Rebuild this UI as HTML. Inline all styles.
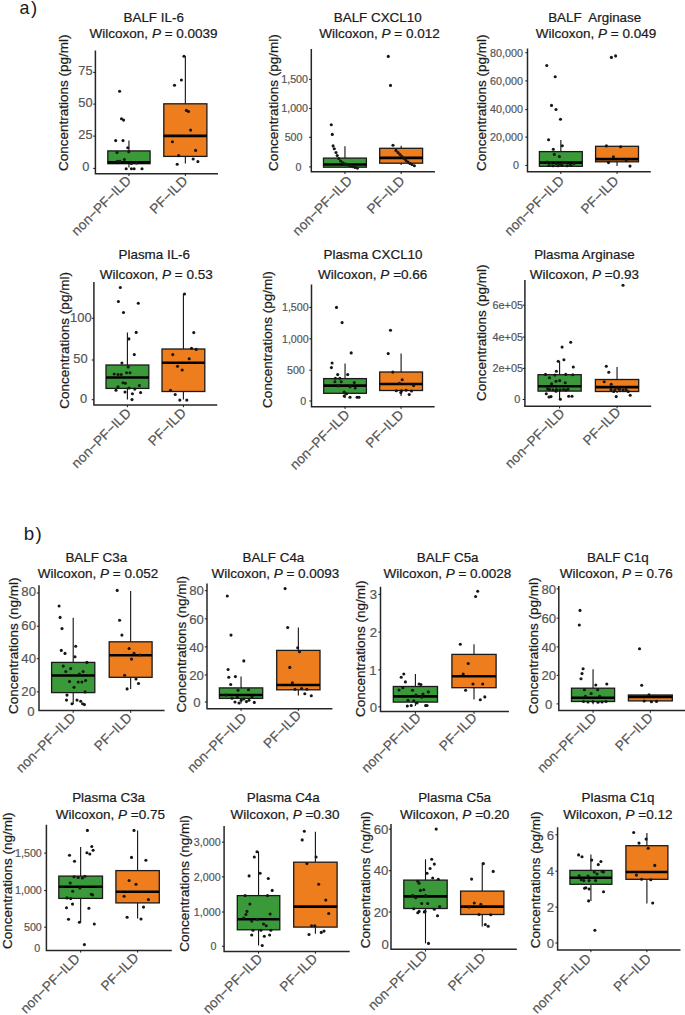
<!DOCTYPE html>
<html><head><meta charset="utf-8"><title>Boxplots</title><style>
html,body{margin:0;padding:0;background:#fff;overflow:hidden;}
svg{display:block;font-family:"Liberation Sans",sans-serif;}
.t1{font-size:13.4px;text-anchor:middle;fill:#1a1a1a;stroke:#1a1a1a;stroke-width:0.22px;}
.t2{font-size:13.5px;text-anchor:middle;fill:#1a1a1a;stroke:#1a1a1a;stroke-width:0.22px;}
.yl{font-size:13.5px;text-anchor:middle;fill:#1a1a1a;stroke:#1a1a1a;stroke-width:0.22px;}
.tl{text-anchor:end;fill:#555555;stroke:#555555;stroke-width:0.2px;}
.xl{font-size:13.7px;text-anchor:end;fill:#555555;stroke:#555555;stroke-width:0.2px;}
.ax{fill:none;stroke:#262626;stroke-width:1.5;}
.tk{stroke:#1a1a1a;stroke-width:1;}
.w{stroke:#111;stroke-width:1.1;}
.bx{stroke:#1a1a1a;stroke-width:1.3;}
.md{stroke:#000;stroke-width:2.6;}
.pt circle{fill:#161616;}
.lab{fill:#1a1a1a;}
</style></head>
<body><svg width="685" height="1015" viewBox="0 0 685 1015">
<text x="19.4" y="14.3" class="lab" font-size="17.8">a<tspan dx="1.8" font-size="18.6">)</tspan></text>
<text x="23.8" y="539.9" class="lab" font-size="18.8">b<tspan dx="1.2" font-size="18.8">)</tspan></text>
<!-- a1 -->
<text x="153.7" y="21.9" class="t1">BALF IL-6</text>
<text x="153.6" y="38.3" class="t2">Wilcoxon, <tspan font-style="italic">P</tspan> = 0.0039</text>
<text transform="translate(68.45,102.7) rotate(-90)" class="yl" font-size="13.5">Concentrations (pg/ml)</text>
<path d="M95.4 50.6V173.8H218" class="ax"/>
<line x1="93.2" y1="72.4" x2="95.4" y2="72.4" class="tk"/>
<text x="92.6" y="74.58" class="tl" font-size="12.8">75</text>
<line x1="93.2" y1="104.1" x2="95.4" y2="104.1" class="tk"/>
<text x="92.6" y="106.58" class="tl" font-size="12.8">50</text>
<line x1="93.2" y1="136.1" x2="95.4" y2="136.1" class="tk"/>
<text x="92.6" y="138.78" class="tl" font-size="12.8">25</text>
<line x1="93.2" y1="168.4" x2="95.4" y2="168.4" class="tk"/>
<text x="89.4" y="170.58" class="tl" font-size="12.8">0</text>
<line x1="128.95" y1="173.8" x2="128.95" y2="176" class="tk"/>
<line x1="185.35" y1="173.8" x2="185.35" y2="176" class="tk"/>
<line x1="128.95" y1="140.6" x2="128.95" y2="150.9" class="w"/>
<line x1="128.95" y1="163.7" x2="128.95" y2="167.4" class="w"/>
<rect x="107.8" y="150.9" width="42.3" height="12.8" fill="#3a9a3a" class="bx"/>
<line x1="107.8" y1="162.4" x2="150.1" y2="162.4" class="md"/>
<line x1="185.35" y1="56.3" x2="185.35" y2="103.8" class="w"/>
<line x1="185.35" y1="156.4" x2="185.35" y2="163.5" class="w"/>
<rect x="163.8" y="103.8" width="43.1" height="52.6" fill="#ee7d1e" class="bx"/>
<line x1="163.8" y1="135.9" x2="206.9" y2="135.9" class="md"/>
<g class="pt"><circle cx="119.6" cy="91.2" r="1.55"/><circle cx="121.5" cy="118.8" r="1.55"/><circle cx="123.6" cy="120.1" r="1.55"/><circle cx="115.7" cy="140.6" r="1.55"/><circle cx="123" cy="140.6" r="1.55"/><circle cx="127.8" cy="147.7" r="1.55"/><circle cx="117" cy="152.5" r="1.55"/><circle cx="128.8" cy="151.7" r="1.55"/><circle cx="124.4" cy="159.5" r="1.55"/><circle cx="117.5" cy="161.4" r="1.55"/><circle cx="120" cy="161.4" r="1.55"/><circle cx="131.4" cy="163.5" r="1.55"/><circle cx="136.5" cy="162.9" r="1.55"/><circle cx="126.2" cy="168.7" r="1.55"/><circle cx="131.4" cy="168.7" r="1.55"/><circle cx="134.1" cy="168.7" r="1.55"/><circle cx="142" cy="168.7" r="1.55"/><circle cx="184" cy="56.3" r="1.55"/><circle cx="181.4" cy="80" r="1.55"/><circle cx="174.5" cy="85.2" r="1.55"/><circle cx="186.4" cy="110.4" r="1.55"/><circle cx="188.5" cy="111.5" r="1.55"/><circle cx="190.6" cy="130.1" r="1.55"/><circle cx="172.4" cy="141.7" r="1.55"/><circle cx="195.6" cy="150.4" r="1.55"/><circle cx="178.7" cy="155.6" r="1.55"/><circle cx="193.2" cy="159" r="1.55"/><circle cx="197.9" cy="161.6" r="1.55"/><circle cx="177.2" cy="164.3" r="1.55"/></g>
<text transform="translate(132,181.5) rotate(-45)" class="xl">non−PF−ILD</text>
<text transform="translate(188.4,181.7) rotate(-45)" class="xl">PF−ILD</text>
<!-- a2 -->
<text x="377.7" y="21.9" class="t1">BALF CXCL10</text>
<text x="379.5" y="38.3" class="t2">Wilcoxon, <tspan font-style="italic">P</tspan> = 0.012</text>
<text transform="translate(277.5,102.6) rotate(-90)" class="yl" font-size="13.5">Concentrations (pg/ml)</text>
<path d="M311.3 49V171.8H434.9" class="ax"/>
<line x1="309.1" y1="79.4" x2="311.3" y2="79.4" class="tk"/>
<text x="308" y="83.23" class="tl" font-size="10.7">1,500</text>
<line x1="309.1" y1="108.5" x2="311.3" y2="108.5" class="tk"/>
<text x="308" y="112.33" class="tl" font-size="10.7">1,000</text>
<line x1="309.1" y1="137.3" x2="311.3" y2="137.3" class="tk"/>
<text x="302.5" y="141.13" class="tl" font-size="10.7">500</text>
<line x1="309.1" y1="166.9" x2="311.3" y2="166.9" class="tk"/>
<text x="301.5" y="170.73" class="tl" font-size="10.7">0</text>
<line x1="344.95" y1="171.8" x2="344.95" y2="174" class="tk"/>
<line x1="401.15" y1="171.8" x2="401.15" y2="174" class="tk"/>
<line x1="344.95" y1="146.3" x2="344.95" y2="158.1" class="w"/>
<line x1="344.95" y1="167.2" x2="344.95" y2="167.4" class="w"/>
<rect x="323.5" y="158.1" width="42.9" height="9.1" fill="#3a9a3a" class="bx"/>
<line x1="323.5" y1="164.5" x2="366.4" y2="164.5" class="md"/>
<line x1="401.15" y1="145.7" x2="401.15" y2="148.3" class="w"/>
<line x1="401.15" y1="163.2" x2="401.15" y2="165" class="w"/>
<rect x="379.7" y="148.3" width="42.9" height="14.9" fill="#ee7d1e" class="bx"/>
<line x1="379.7" y1="157.9" x2="422.6" y2="157.9" class="md"/>
<g class="pt"><circle cx="331.3" cy="124.8" r="1.55"/><circle cx="332.3" cy="134.4" r="1.55"/><circle cx="333.1" cy="145.9" r="1.55"/><circle cx="334.3" cy="148.7" r="1.55"/><circle cx="336" cy="152.5" r="1.55"/><circle cx="337.2" cy="155.5" r="1.55"/><circle cx="338.8" cy="158.5" r="1.55"/><circle cx="340.6" cy="161" r="1.55"/><circle cx="342.7" cy="162.8" r="1.55"/><circle cx="345" cy="163.8" r="1.55"/><circle cx="347.5" cy="164.8" r="1.55"/><circle cx="350" cy="165.8" r="1.55"/><circle cx="352.5" cy="166.6" r="1.55"/><circle cx="355" cy="167.4" r="1.55"/><circle cx="357.5" cy="168.1" r="1.55"/><circle cx="388.3" cy="56.4" r="1.55"/><circle cx="390.5" cy="85.4" r="1.55"/><circle cx="393" cy="145.2" r="1.55"/><circle cx="396" cy="150.4" r="1.55"/><circle cx="398" cy="152.5" r="1.55"/><circle cx="400" cy="154.5" r="1.55"/><circle cx="402" cy="156.5" r="1.55"/><circle cx="404" cy="158.5" r="1.55"/><circle cx="406" cy="160.5" r="1.55"/><circle cx="408" cy="162" r="1.55"/><circle cx="410" cy="163.5" r="1.55"/><circle cx="412" cy="164.5" r="1.55"/><circle cx="414.4" cy="165.7" r="1.55"/></g>
<text transform="translate(353,181.6) rotate(-45)" class="xl">non−PF−ILD</text>
<text transform="translate(405.6,181.7) rotate(-45)" class="xl">PF−ILD</text>
<!-- a3 -->
<text x="594.7" y="21.9" class="t1">BALF  Arginase</text>
<text x="596" y="38.3" class="t2">Wilcoxon, <tspan font-style="italic">P</tspan> = 0.049</text>
<text transform="translate(486.4,102.7) rotate(-90)" class="yl" font-size="13.5">Concentrations (pg/ml)</text>
<path d="M527.5 48.4V171.8H650.8" class="ax"/>
<line x1="525.3" y1="52.7" x2="527.5" y2="52.7" class="tk"/>
<text x="523" y="56.57" class="tl" font-size="10.8">80,000</text>
<line x1="525.3" y1="80.9" x2="527.5" y2="80.9" class="tk"/>
<text x="523" y="84.77" class="tl" font-size="10.8">60,000</text>
<line x1="525.3" y1="109.6" x2="527.5" y2="109.6" class="tk"/>
<text x="523" y="113.47" class="tl" font-size="10.8">40,000</text>
<line x1="525.3" y1="137.1" x2="527.5" y2="137.1" class="tk"/>
<text x="523" y="140.97" class="tl" font-size="10.8">20,000</text>
<line x1="525.3" y1="165.4" x2="527.5" y2="165.4" class="tk"/>
<text x="519.1" y="169.27" class="tl" font-size="10.8">0</text>
<line x1="560.85" y1="171.8" x2="560.85" y2="174" class="tk"/>
<line x1="617.05" y1="171.8" x2="617.05" y2="174" class="tk"/>
<line x1="560.85" y1="140.1" x2="560.85" y2="151.6" class="w"/>
<line x1="560.85" y1="166.3" x2="560.85" y2="166.3" class="w"/>
<rect x="539.4" y="151.6" width="42.9" height="14.7" fill="#3a9a3a" class="bx"/>
<line x1="539.4" y1="162.6" x2="582.3" y2="162.6" class="md"/>
<line x1="617.05" y1="146.3" x2="617.05" y2="146.3" class="w"/>
<line x1="617.05" y1="161.8" x2="617.05" y2="166" class="w"/>
<rect x="595.6" y="146.3" width="42.9" height="15.5" fill="#ee7d1e" class="bx"/>
<line x1="595.6" y1="159.1" x2="638.5" y2="159.1" class="md"/>
<g class="pt"><circle cx="546.8" cy="65.5" r="1.55"/><circle cx="555.2" cy="76.8" r="1.55"/><circle cx="551.5" cy="105.4" r="1.55"/><circle cx="556" cy="109.5" r="1.55"/><circle cx="560.5" cy="119.3" r="1.55"/><circle cx="548.6" cy="139.7" r="1.55"/><circle cx="562.3" cy="145.7" r="1.55"/><circle cx="553.3" cy="149.3" r="1.55"/><circle cx="554.3" cy="154.4" r="1.55"/><circle cx="559.4" cy="156.5" r="1.55"/><circle cx="547" cy="162" r="1.55"/><circle cx="551" cy="163" r="1.55"/><circle cx="556" cy="163.5" r="1.55"/><circle cx="560" cy="164" r="1.55"/><circle cx="563" cy="163" r="1.55"/><circle cx="566" cy="162.5" r="1.55"/><circle cx="570" cy="164" r="1.55"/><circle cx="574" cy="163.5" r="1.55"/><circle cx="549" cy="165.5" r="1.55"/><circle cx="553" cy="165.8" r="1.55"/><circle cx="558" cy="165.8" r="1.55"/><circle cx="562" cy="165.5" r="1.55"/><circle cx="567" cy="165.8" r="1.55"/><circle cx="571" cy="165.5" r="1.55"/><circle cx="611.4" cy="57.4" r="1.55"/><circle cx="615.6" cy="55.9" r="1.55"/><circle cx="606.4" cy="145.9" r="1.55"/><circle cx="620.6" cy="146.7" r="1.55"/><circle cx="613.4" cy="156.9" r="1.55"/><circle cx="608.5" cy="162.6" r="1.55"/><circle cx="626.3" cy="160.6" r="1.55"/><circle cx="630" cy="166.1" r="1.55"/></g>
<text transform="translate(564.9,181.6) rotate(-45)" class="xl">non−PF−ILD</text>
<text transform="translate(619.5,181.7) rotate(-45)" class="xl">PF−ILD</text>
<!-- a4 -->
<text x="154.3" y="258.6" class="t1">Plasma IL-6</text>
<text x="156.3" y="279" class="t2">Wilcoxon, <tspan font-style="italic">P</tspan> = 0.53</text>
<text transform="translate(69.05,340.4) rotate(-90)" class="yl" font-size="13.5">Concentrations (pg/ml)</text>
<path d="M93.9 282.1V405H217.2" class="ax"/>
<line x1="91.7" y1="318.3" x2="93.9" y2="318.3" class="tk"/>
<text x="91.6" y="322.22" class="tl" font-size="12.9">100</text>
<line x1="91.7" y1="360" x2="93.9" y2="360" class="tk"/>
<text x="87.7" y="362.92" class="tl" font-size="12.9">50</text>
<line x1="91.7" y1="399.7" x2="93.9" y2="399.7" class="tk"/>
<text x="87.2" y="402.92" class="tl" font-size="12.9">0</text>
<line x1="127.4" y1="405" x2="127.4" y2="407.2" class="tk"/>
<line x1="183.4" y1="405" x2="183.4" y2="407.2" class="tk"/>
<line x1="127.4" y1="332.6" x2="127.4" y2="365" class="w"/>
<line x1="127.4" y1="388.4" x2="127.4" y2="399.6" class="w"/>
<rect x="106" y="365" width="42.8" height="23.4" fill="#3a9a3a" class="bx"/>
<line x1="106" y1="377.5" x2="148.8" y2="377.5" class="md"/>
<line x1="183.4" y1="294" x2="183.4" y2="349" class="w"/>
<line x1="183.4" y1="391.5" x2="183.4" y2="399.6" class="w"/>
<rect x="162" y="349" width="42.8" height="42.5" fill="#ee7d1e" class="bx"/>
<line x1="162" y1="362.7" x2="204.8" y2="362.7" class="md"/>
<g class="pt"><circle cx="120.3" cy="287.5" r="1.55"/><circle cx="118.4" cy="301.5" r="1.55"/><circle cx="138.3" cy="303.2" r="1.55"/><circle cx="123.5" cy="312.5" r="1.55"/><circle cx="136.2" cy="332.4" r="1.55"/><circle cx="128.9" cy="338.9" r="1.55"/><circle cx="134.3" cy="354.6" r="1.55"/><circle cx="121.9" cy="363" r="1.55"/><circle cx="128.2" cy="367" r="1.55"/><circle cx="114.2" cy="374" r="1.55"/><circle cx="118" cy="374.5" r="1.55"/><circle cx="121.2" cy="374.5" r="1.55"/><circle cx="126.6" cy="372.8" r="1.55"/><circle cx="130" cy="372.8" r="1.55"/><circle cx="123" cy="382.8" r="1.55"/><circle cx="125.4" cy="383.3" r="1.55"/><circle cx="139.4" cy="385.6" r="1.55"/><circle cx="118" cy="386.8" r="1.55"/><circle cx="134.8" cy="389.1" r="1.55"/><circle cx="116" cy="390.3" r="1.55"/><circle cx="125" cy="392" r="1.55"/><circle cx="129" cy="388" r="1.55"/><circle cx="140.6" cy="392.6" r="1.55"/><circle cx="132.4" cy="393.8" r="1.55"/><circle cx="132" cy="399.6" r="1.55"/><circle cx="184.5" cy="294" r="1.55"/><circle cx="193.8" cy="332.6" r="1.55"/><circle cx="191.5" cy="348.3" r="1.55"/><circle cx="196.2" cy="349.4" r="1.55"/><circle cx="172.8" cy="354.6" r="1.55"/><circle cx="189.2" cy="358.8" r="1.55"/><circle cx="177.5" cy="366.2" r="1.55"/><circle cx="182.2" cy="370" r="1.55"/><circle cx="170.5" cy="390.3" r="1.55"/><circle cx="175.2" cy="394.5" r="1.55"/><circle cx="179.8" cy="400.1" r="1.55"/><circle cx="186.8" cy="400.1" r="1.55"/></g>
<text transform="translate(132,414) rotate(-45)" class="xl">non−PF−ILD</text>
<text transform="translate(186.9,413.7) rotate(-45)" class="xl">PF−ILD</text>
<!-- a5 -->
<text x="373" y="258.6" class="t1">Plasma CXCL10</text>
<text x="372.7" y="279" class="t2">Wilcoxon, <tspan font-style="italic">P</tspan> =0.66</text>
<text transform="translate(272.2,339.6) rotate(-90)" class="yl" font-size="13.8">Concentrations (pg/ml)</text>
<path d="M311.5 284.5V406.7H434.6" class="ax"/>
<line x1="309.3" y1="307.4" x2="311.5" y2="307.4" class="tk"/>
<text x="308.7" y="311.23" class="tl" font-size="10.7">1,500</text>
<line x1="309.3" y1="338.9" x2="311.5" y2="338.9" class="tk"/>
<text x="308.7" y="342.73" class="tl" font-size="10.7">1,000</text>
<line x1="309.3" y1="370.2" x2="311.5" y2="370.2" class="tk"/>
<text x="304.8" y="374.03" class="tl" font-size="10.7">500</text>
<line x1="309.3" y1="401" x2="311.5" y2="401" class="tk"/>
<text x="306.3" y="404.83" class="tl" font-size="10.7">0</text>
<line x1="345.05" y1="406.7" x2="345.05" y2="408.9" class="tk"/>
<line x1="401.1" y1="406.7" x2="401.1" y2="408.9" class="tk"/>
<line x1="345.05" y1="363.4" x2="345.05" y2="378.6" class="w"/>
<line x1="345.05" y1="393.3" x2="345.05" y2="398" class="w"/>
<rect x="323.7" y="378.6" width="42.7" height="14.7" fill="#3a9a3a" class="bx"/>
<line x1="323.7" y1="385.6" x2="366.4" y2="385.6" class="md"/>
<line x1="401.1" y1="353.6" x2="401.1" y2="372" class="w"/>
<line x1="401.1" y1="390.5" x2="401.1" y2="396" class="w"/>
<rect x="379.7" y="372" width="42.8" height="18.5" fill="#ee7d1e" class="bx"/>
<line x1="379.7" y1="384" x2="422.5" y2="384" class="md"/>
<g class="pt"><circle cx="336.5" cy="307.4" r="1.55"/><circle cx="342.1" cy="322.6" r="1.55"/><circle cx="351.2" cy="352.9" r="1.55"/><circle cx="332.1" cy="363" r="1.55"/><circle cx="331.4" cy="367.6" r="1.55"/><circle cx="337.7" cy="374.6" r="1.55"/><circle cx="347.7" cy="374.6" r="1.55"/><circle cx="335.4" cy="378.2" r="1.55"/><circle cx="339.8" cy="378.2" r="1.55"/><circle cx="334.9" cy="381.7" r="1.55"/><circle cx="341.2" cy="381.7" r="1.55"/><circle cx="338.4" cy="385.9" r="1.55"/><circle cx="350" cy="386.8" r="1.55"/><circle cx="354.3" cy="382.6" r="1.55"/><circle cx="355.2" cy="388" r="1.55"/><circle cx="344.2" cy="392" r="1.55"/><circle cx="346.6" cy="393.8" r="1.55"/><circle cx="350" cy="397.3" r="1.55"/><circle cx="357.1" cy="397.3" r="1.55"/><circle cx="359" cy="397.3" r="1.55"/><circle cx="344.2" cy="396.1" r="1.55"/><circle cx="390.5" cy="330.3" r="1.55"/><circle cx="388.2" cy="353.6" r="1.55"/><circle cx="392.8" cy="372.1" r="1.55"/><circle cx="402.2" cy="379.8" r="1.55"/><circle cx="399.4" cy="383.3" r="1.55"/><circle cx="396.3" cy="390.8" r="1.55"/><circle cx="401.5" cy="390.8" r="1.55"/><circle cx="406.1" cy="390.3" r="1.55"/><circle cx="411.5" cy="391" r="1.55"/><circle cx="413.6" cy="385.6" r="1.55"/><circle cx="409.2" cy="394.5" r="1.55"/><circle cx="400.8" cy="392.6" r="1.55"/></g>
<text transform="translate(350.4,415.6) rotate(-45)" class="xl">non−PF−ILD</text>
<text transform="translate(404.4,415.7) rotate(-45)" class="xl">PF−ILD</text>
<!-- a6 -->
<text x="584.4" y="258.6" class="t1">Plasma Arginase</text>
<text x="584.4" y="279" class="t2">Wilcoxon, <tspan font-style="italic">P</tspan> =0.93</text>
<text transform="translate(486.3,332.8) rotate(-90)" class="yl" font-size="13.5">Concentrations (pg/ml)</text>
<path d="M524.9 279.9V406.2H651.2" class="ax"/>
<line x1="522.7" y1="305.2" x2="524.9" y2="305.2" class="tk"/>
<text x="523" y="309.1" class="tl" font-size="10.9">6e+05</text>
<line x1="522.7" y1="337.1" x2="524.9" y2="337.1" class="tk"/>
<text x="523" y="341" class="tl" font-size="10.9">4e+05</text>
<line x1="522.7" y1="368.4" x2="524.9" y2="368.4" class="tk"/>
<text x="523" y="372.3" class="tl" font-size="10.9">2e+05</text>
<line x1="522.7" y1="399.5" x2="524.9" y2="399.5" class="tk"/>
<text x="520.4" y="403.4" class="tl" font-size="10.9">0</text>
<line x1="559.6" y1="406.2" x2="559.6" y2="408.4" class="tk"/>
<line x1="617.05" y1="406.2" x2="617.05" y2="408.4" class="tk"/>
<line x1="559.6" y1="360.9" x2="559.6" y2="374.7" class="w"/>
<line x1="559.6" y1="391.1" x2="559.6" y2="399.2" class="w"/>
<rect x="538" y="374.7" width="43.2" height="16.4" fill="#3a9a3a" class="bx"/>
<line x1="538" y1="386.2" x2="581.2" y2="386.2" class="md"/>
<line x1="617.05" y1="367" x2="617.05" y2="379.5" class="w"/>
<line x1="617.05" y1="391.5" x2="617.05" y2="393" class="w"/>
<rect x="595.4" y="379.5" width="43.3" height="12" fill="#ee7d1e" class="bx"/>
<line x1="595.4" y1="387.1" x2="638.7" y2="387.1" class="md"/>
<g class="pt"><circle cx="570.7" cy="342.3" r="1.55"/><circle cx="562.1" cy="347.1" r="1.55"/><circle cx="563.9" cy="359.8" r="1.55"/><circle cx="558.2" cy="361.3" r="1.55"/><circle cx="573.3" cy="367" r="1.55"/><circle cx="556.4" cy="371.2" r="1.55"/><circle cx="545.5" cy="374.4" r="1.55"/><circle cx="554.9" cy="375.1" r="1.55"/><circle cx="565.8" cy="374.4" r="1.55"/><circle cx="572.8" cy="374.7" r="1.55"/><circle cx="549.4" cy="377.7" r="1.55"/><circle cx="556" cy="381.2" r="1.55"/><circle cx="559.7" cy="380.6" r="1.55"/><circle cx="551.6" cy="383.9" r="1.55"/><circle cx="565.2" cy="382.8" r="1.55"/><circle cx="547.7" cy="388.9" r="1.55"/><circle cx="568" cy="389.3" r="1.55"/><circle cx="546.3" cy="393.7" r="1.55"/><circle cx="549" cy="397" r="1.55"/><circle cx="551" cy="396.6" r="1.55"/><circle cx="560.4" cy="399.2" r="1.55"/><circle cx="568.7" cy="396.3" r="1.55"/><circle cx="572" cy="396.3" r="1.55"/><circle cx="549.5" cy="389.4" r="1.55"/><circle cx="553" cy="389.8" r="1.55"/><circle cx="556.5" cy="389.5" r="1.55"/><circle cx="560" cy="389.9" r="1.55"/><circle cx="563.5" cy="389.6" r="1.55"/><circle cx="566" cy="390.1" r="1.55"/><circle cx="556" cy="391.2" r="1.55"/><circle cx="623" cy="285.3" r="1.55"/><circle cx="606.3" cy="366.3" r="1.55"/><circle cx="608.8" cy="372.3" r="1.55"/><circle cx="604.2" cy="381.7" r="1.55"/><circle cx="611.2" cy="384.3" r="1.55"/><circle cx="613.6" cy="391.5" r="1.55"/><circle cx="618.2" cy="388.2" r="1.55"/><circle cx="616.2" cy="396.6" r="1.55"/><circle cx="628.2" cy="391.5" r="1.55"/><circle cx="630.2" cy="395.2" r="1.55"/><circle cx="611" cy="389.6" r="1.55"/><circle cx="615" cy="389.9" r="1.55"/><circle cx="619.5" cy="389.4" r="1.55"/><circle cx="623" cy="390" r="1.55"/><circle cx="626" cy="389.6" r="1.55"/></g>
<text transform="translate(565.5,414.2) rotate(-45)" class="xl">non−PF−ILD</text>
<text transform="translate(621.6,413.1) rotate(-45)" class="xl">PF−ILD</text>
<!-- b1 -->
<text x="96.3" y="561.7" class="t1">BALF C3a</text>
<text x="98" y="578.3" class="t2">Wilcoxon, <tspan font-style="italic">P</tspan> = 0.052</text>
<text transform="translate(18,645.8) rotate(-90)" class="yl" font-size="13.5">Concentrations (ng/ml)</text>
<path d="M39 585.2V710.6H164.6" class="ax"/>
<line x1="36.8" y1="593" x2="39" y2="593" class="tk"/>
<text x="36" y="596.13" class="tl" font-size="13.2">80</text>
<line x1="36.8" y1="626.2" x2="39" y2="626.2" class="tk"/>
<text x="36" y="629.53" class="tl" font-size="13.2">60</text>
<line x1="36.8" y1="658.7" x2="39" y2="658.7" class="tk"/>
<text x="36" y="662.63" class="tl" font-size="13.2">40</text>
<line x1="36.8" y1="691.9" x2="39" y2="691.9" class="tk"/>
<text x="36" y="695.93" class="tl" font-size="13.2">20</text>
<text x="34.5" y="716.43" class="tl" font-size="13.2">0</text>
<line x1="73.2" y1="710.6" x2="73.2" y2="712.8" class="tk"/>
<line x1="130.65" y1="710.6" x2="130.65" y2="712.8" class="tk"/>
<line x1="73.2" y1="617.7" x2="73.2" y2="662.4" class="w"/>
<line x1="73.2" y1="692.6" x2="73.2" y2="704" class="w"/>
<rect x="51.6" y="662.4" width="43.2" height="30.2" fill="#3a9a3a" class="bx"/>
<line x1="51.6" y1="675.5" x2="94.8" y2="675.5" class="md"/>
<line x1="130.65" y1="590.9" x2="130.65" y2="641.8" class="w"/>
<line x1="130.65" y1="677.3" x2="130.65" y2="688.9" class="w"/>
<rect x="109.2" y="641.8" width="42.9" height="35.5" fill="#ee7d1e" class="bx"/>
<line x1="109.2" y1="655.2" x2="152.1" y2="655.2" class="md"/>
<g class="pt"><circle cx="59.1" cy="606" r="1.55"/><circle cx="60.1" cy="617.4" r="1.55"/><circle cx="62" cy="628.6" r="1.55"/><circle cx="61.3" cy="650.4" r="1.55"/><circle cx="65" cy="653.4" r="1.55"/><circle cx="75.7" cy="646.2" r="1.55"/><circle cx="75" cy="656.7" r="1.55"/><circle cx="86.9" cy="662.4" r="1.55"/><circle cx="63.3" cy="666.1" r="1.55"/><circle cx="70.7" cy="668.6" r="1.55"/><circle cx="65.8" cy="671.5" r="1.55"/><circle cx="83.1" cy="671.5" r="1.55"/><circle cx="79.4" cy="674" r="1.55"/><circle cx="69.5" cy="681.5" r="1.55"/><circle cx="78.2" cy="682" r="1.55"/><circle cx="81.9" cy="682" r="1.55"/><circle cx="85.6" cy="680.5" r="1.55"/><circle cx="74" cy="687.2" r="1.55"/><circle cx="85.1" cy="691.9" r="1.55"/><circle cx="67" cy="695.1" r="1.55"/><circle cx="66.5" cy="700.1" r="1.55"/><circle cx="72" cy="703.8" r="1.55"/><circle cx="77" cy="700.1" r="1.55"/><circle cx="80.7" cy="701.3" r="1.55"/><circle cx="82.6" cy="703.8" r="1.55"/><circle cx="84.4" cy="704.6" r="1.55"/><circle cx="117.2" cy="590.4" r="1.55"/><circle cx="119.6" cy="620.2" r="1.55"/><circle cx="121.9" cy="635.1" r="1.55"/><circle cx="129.1" cy="648.5" r="1.55"/><circle cx="134" cy="653.4" r="1.55"/><circle cx="131.5" cy="659.1" r="1.55"/><circle cx="140.2" cy="655" r="1.55"/><circle cx="124.6" cy="675.3" r="1.55"/><circle cx="136" cy="679" r="1.55"/><circle cx="138.5" cy="683.5" r="1.55"/><circle cx="127.1" cy="688.9" r="1.55"/></g>
<text transform="translate(76.4,718.6) rotate(-45)" class="xl">non−PF−ILD</text>
<text transform="translate(132.8,718.6) rotate(-45)" class="xl">PF−ILD</text>
<!-- b2 -->
<text x="273.4" y="561.5" class="t1">BALF C4a</text>
<text x="275.4" y="578.1" class="t2">Wilcoxon, <tspan font-style="italic">P</tspan> = 0.0093</text>
<text transform="translate(185.8,644.3) rotate(-90)" class="yl" font-size="13.5">Concentrations (ng/ml)</text>
<path d="M207 583.4V708.7H332.4" class="ax"/>
<line x1="204.8" y1="590.7" x2="207" y2="590.7" class="tk"/>
<text x="203.9" y="595.43" class="tl" font-size="13.2">80</text>
<line x1="204.8" y1="618.8" x2="207" y2="618.8" class="tk"/>
<text x="203.9" y="623.53" class="tl" font-size="13.2">60</text>
<line x1="204.8" y1="646.9" x2="207" y2="646.9" class="tk"/>
<text x="203.9" y="651.63" class="tl" font-size="13.2">40</text>
<line x1="204.8" y1="675" x2="207" y2="675" class="tk"/>
<text x="203.9" y="679.73" class="tl" font-size="13.2">20</text>
<line x1="204.8" y1="702" x2="207" y2="702" class="tk"/>
<text x="200.5" y="706.73" class="tl" font-size="13.2">0</text>
<line x1="241.05" y1="708.7" x2="241.05" y2="710.9" class="tk"/>
<line x1="298.35" y1="708.7" x2="298.35" y2="710.9" class="tk"/>
<line x1="241.05" y1="676.6" x2="241.05" y2="687.9" class="w"/>
<line x1="241.05" y1="698.4" x2="241.05" y2="703.4" class="w"/>
<rect x="219.4" y="687.9" width="43.3" height="10.5" fill="#3a9a3a" class="bx"/>
<line x1="219.4" y1="695" x2="262.7" y2="695" class="md"/>
<line x1="298.35" y1="627.5" x2="298.35" y2="650.4" class="w"/>
<line x1="298.35" y1="689.8" x2="298.35" y2="695.5" class="w"/>
<rect x="276.7" y="650.4" width="43.3" height="39.4" fill="#ee7d1e" class="bx"/>
<line x1="276.7" y1="685" x2="320" y2="685" class="md"/>
<g class="pt"><circle cx="227.3" cy="596" r="1.55"/><circle cx="231" cy="635.1" r="1.55"/><circle cx="243.8" cy="660.9" r="1.55"/><circle cx="228.1" cy="669.5" r="1.55"/><circle cx="228.8" cy="677.2" r="1.55"/><circle cx="235.4" cy="676.6" r="1.55"/><circle cx="230.7" cy="684.5" r="1.55"/><circle cx="238" cy="690.3" r="1.55"/><circle cx="248.5" cy="689.8" r="1.55"/><circle cx="232" cy="698.2" r="1.55"/><circle cx="237.3" cy="697.1" r="1.55"/><circle cx="243.8" cy="699" r="1.55"/><circle cx="249" cy="700.3" r="1.55"/><circle cx="254.3" cy="702.4" r="1.55"/><circle cx="241.2" cy="700.3" r="1.55"/><circle cx="246.4" cy="701.6" r="1.55"/><circle cx="226" cy="695" r="1.55"/><circle cx="252" cy="697" r="1.55"/><circle cx="239" cy="703" r="1.55"/><circle cx="235" cy="702" r="1.55"/><circle cx="285.1" cy="588.6" r="1.55"/><circle cx="287.7" cy="627.5" r="1.55"/><circle cx="297.7" cy="647.7" r="1.55"/><circle cx="299.5" cy="651.7" r="1.55"/><circle cx="289.8" cy="667.4" r="1.55"/><circle cx="292.4" cy="682.7" r="1.55"/><circle cx="295" cy="689.2" r="1.55"/><circle cx="301.6" cy="688.5" r="1.55"/><circle cx="306.9" cy="689.2" r="1.55"/><circle cx="304.8" cy="693.7" r="1.55"/><circle cx="311.3" cy="695.8" r="1.55"/></g>
<text transform="translate(247.6,718.6) rotate(-45)" class="xl">non−PF−ILD</text>
<text transform="translate(302.1,716.1) rotate(-45)" class="xl">PF−ILD</text>
<!-- b3 -->
<text x="447.7" y="561.5" class="t1">BALF C5a</text>
<text x="447.4" y="578.1" class="t2">Wilcoxon, <tspan font-style="italic">P</tspan> = 0.0028</text>
<text transform="translate(365.25,648.8) rotate(-90)" class="yl" font-size="13.5">Concentrations (ng/ml)</text>
<path d="M380.5 586.8V711.6H508.9" class="ax"/>
<line x1="378.3" y1="594.4" x2="380.5" y2="594.4" class="tk"/>
<text x="377" y="599.13" class="tl" font-size="13.2">3</text>
<line x1="378.3" y1="632.1" x2="380.5" y2="632.1" class="tk"/>
<text x="377" y="636.83" class="tl" font-size="13.2">2</text>
<line x1="378.3" y1="669.9" x2="380.5" y2="669.9" class="tk"/>
<text x="376.7" y="674.63" class="tl" font-size="13.2">1</text>
<line x1="378.3" y1="706.8" x2="380.5" y2="706.8" class="tk"/>
<text x="377" y="711.53" class="tl" font-size="13.2">0</text>
<line x1="415.4" y1="711.6" x2="415.4" y2="713.8" class="tk"/>
<line x1="474" y1="711.6" x2="474" y2="713.8" class="tk"/>
<line x1="415.4" y1="674" x2="415.4" y2="686.5" class="w"/>
<line x1="415.4" y1="702.1" x2="415.4" y2="706" class="w"/>
<rect x="393.3" y="686.5" width="44.2" height="15.6" fill="#3a9a3a" class="bx"/>
<line x1="393.3" y1="696.4" x2="437.5" y2="696.4" class="md"/>
<line x1="474" y1="644.3" x2="474" y2="654.4" class="w"/>
<line x1="474" y1="687.7" x2="474" y2="699.5" class="w"/>
<rect x="451.9" y="654.4" width="44.2" height="33.3" fill="#ee7d1e" class="bx"/>
<line x1="451.9" y1="676.3" x2="496.1" y2="676.3" class="md"/>
<g class="pt"><circle cx="401.2" cy="677.2" r="1.55"/><circle cx="403.8" cy="674" r="1.55"/><circle cx="405.4" cy="681.9" r="1.55"/><circle cx="402.8" cy="687.7" r="1.55"/><circle cx="412.5" cy="690.3" r="1.55"/><circle cx="419.1" cy="684" r="1.55"/><circle cx="420.9" cy="684.5" r="1.55"/><circle cx="428.3" cy="691.9" r="1.55"/><circle cx="408" cy="700.3" r="1.55"/><circle cx="413.8" cy="700.8" r="1.55"/><circle cx="421.7" cy="697.1" r="1.55"/><circle cx="425.6" cy="705.5" r="1.55"/><circle cx="427" cy="705.5" r="1.55"/><circle cx="407.3" cy="706" r="1.55"/><circle cx="411.2" cy="705.5" r="1.55"/><circle cx="417" cy="703" r="1.55"/><circle cx="399" cy="690" r="1.55"/><circle cx="423" cy="694" r="1.55"/><circle cx="416" cy="695" r="1.55"/><circle cx="477.7" cy="591.2" r="1.55"/><circle cx="475.6" cy="596.5" r="1.55"/><circle cx="460.3" cy="644.3" r="1.55"/><circle cx="468.2" cy="663.5" r="1.55"/><circle cx="463.2" cy="674" r="1.55"/><circle cx="473" cy="684" r="1.55"/><circle cx="482.7" cy="684" r="1.55"/><circle cx="465.6" cy="690.3" r="1.55"/><circle cx="480.3" cy="699.7" r="1.55"/><circle cx="484.8" cy="696.9" r="1.55"/></g>
<text transform="translate(421.8,718.6) rotate(-45)" class="xl">non−PF−ILD</text>
<text transform="translate(477.8,718.6) rotate(-45)" class="xl">PF−ILD</text>
<!-- b4 -->
<text x="617.8" y="561.5" class="t1">BALF C1q</text>
<text x="616.2" y="578.1" class="t2">Wilcoxon, <tspan font-style="italic">P</tspan> = 0.76</text>
<text transform="translate(537.75,645.8) rotate(-90)" class="yl" font-size="13.5">Concentrations (pg/ml)</text>
<path d="M558.8 586V710.6H685" class="ax"/>
<line x1="556.6" y1="588.9" x2="558.8" y2="588.9" class="tk"/>
<text x="556.2" y="593.63" class="tl" font-size="13.2">80</text>
<line x1="556.6" y1="618.1" x2="558.8" y2="618.1" class="tk"/>
<text x="556.2" y="622.83" class="tl" font-size="13.2">60</text>
<line x1="556.6" y1="646.9" x2="558.8" y2="646.9" class="tk"/>
<text x="556.2" y="651.63" class="tl" font-size="13.2">40</text>
<line x1="556.6" y1="675.3" x2="558.8" y2="675.3" class="tk"/>
<text x="556.2" y="680.03" class="tl" font-size="13.2">20</text>
<line x1="556.6" y1="703.9" x2="558.8" y2="703.9" class="tk"/>
<text x="552.4" y="708.63" class="tl" font-size="13.2">0</text>
<line x1="593.05" y1="710.6" x2="593.05" y2="712.8" class="tk"/>
<line x1="650.35" y1="710.6" x2="650.35" y2="712.8" class="tk"/>
<line x1="593.05" y1="669.2" x2="593.05" y2="688.2" class="w"/>
<line x1="593.05" y1="701.5" x2="593.05" y2="704.2" class="w"/>
<rect x="571.5" y="688.2" width="43.1" height="13.3" fill="#3a9a3a" class="bx"/>
<line x1="571.5" y1="697.8" x2="614.6" y2="697.8" class="md"/>
<line x1="650.35" y1="695" x2="650.35" y2="695" class="w"/>
<line x1="650.35" y1="700.9" x2="650.35" y2="701.5" class="w"/>
<rect x="628.4" y="695" width="43.9" height="5.9" fill="#ee7d1e" class="bx"/>
<line x1="628.4" y1="696.9" x2="672.3" y2="696.9" class="md"/>
<g class="pt"><circle cx="580" cy="610.4" r="1.55"/><circle cx="579.3" cy="625" r="1.55"/><circle cx="583.1" cy="668.8" r="1.55"/><circle cx="582" cy="673.6" r="1.55"/><circle cx="581" cy="678.7" r="1.55"/><circle cx="595.8" cy="685" r="1.55"/><circle cx="606.8" cy="684" r="1.55"/><circle cx="584.4" cy="689.7" r="1.55"/><circle cx="597.7" cy="689.7" r="1.55"/><circle cx="591.1" cy="693.5" r="1.55"/><circle cx="585.4" cy="696.2" r="1.55"/><circle cx="599.6" cy="696.2" r="1.55"/><circle cx="583.5" cy="701.5" r="1.55"/><circle cx="588" cy="702" r="1.55"/><circle cx="593" cy="701.5" r="1.55"/><circle cx="598" cy="702.3" r="1.55"/><circle cx="602" cy="702" r="1.55"/><circle cx="606" cy="701.5" r="1.55"/><circle cx="639.5" cy="648.7" r="1.55"/><circle cx="641.7" cy="685.3" r="1.55"/><circle cx="649" cy="694.8" r="1.55"/><circle cx="644.2" cy="701" r="1.55"/><circle cx="651.4" cy="701.8" r="1.55"/><circle cx="656.5" cy="701.4" r="1.55"/></g>
<text transform="translate(597.6,718.6) rotate(-45)" class="xl">non−PF−ILD</text>
<text transform="translate(653.8,718.6) rotate(-45)" class="xl">PF−ILD</text>
<!-- b5 -->
<text x="108.6" y="802.3" class="t1">Plasma C3a</text>
<text x="110.4" y="818.5" class="t2">Wilcoxon, <tspan font-style="italic">P</tspan> =0.75</text>
<text transform="translate(11.95,880.7) rotate(-90)" class="yl" font-size="13.6">Concentrations (ng/ml)</text>
<path d="M46.4 824.7V950.4H171.8" class="ax"/>
<line x1="44.2" y1="853.1" x2="46.4" y2="853.1" class="tk"/>
<text x="41.8" y="856.93" class="tl" font-size="10.7">1,500</text>
<line x1="44.2" y1="890.6" x2="46.4" y2="890.6" class="tk"/>
<text x="41.8" y="894.43" class="tl" font-size="10.7">1,000</text>
<line x1="44.2" y1="927.2" x2="46.4" y2="927.2" class="tk"/>
<text x="41.8" y="931.03" class="tl" font-size="10.7">500</text>
<text x="40.2" y="952.43" class="tl" font-size="10.7">0</text>
<line x1="80.65" y1="950.4" x2="80.65" y2="952.6" class="tk"/>
<line x1="137.6" y1="950.4" x2="137.6" y2="952.6" class="tk"/>
<line x1="80.65" y1="847" x2="80.65" y2="876.1" class="w"/>
<line x1="80.65" y1="898.4" x2="80.65" y2="922.7" class="w"/>
<rect x="58.8" y="876.1" width="43.7" height="22.3" fill="#3a9a3a" class="bx"/>
<line x1="58.8" y1="886.7" x2="102.5" y2="886.7" class="md"/>
<line x1="137.6" y1="830.4" x2="137.6" y2="870.6" class="w"/>
<line x1="137.6" y1="902.9" x2="137.6" y2="918.5" class="w"/>
<rect x="115.9" y="870.6" width="43.4" height="32.3" fill="#ee7d1e" class="bx"/>
<line x1="115.9" y1="891.7" x2="159.3" y2="891.7" class="md"/>
<g class="pt"><circle cx="87.4" cy="830.4" r="1.55"/><circle cx="91.8" cy="846.5" r="1.55"/><circle cx="93.1" cy="850.2" r="1.55"/><circle cx="86.9" cy="852.7" r="1.55"/><circle cx="89.8" cy="854" r="1.55"/><circle cx="69.5" cy="855.2" r="1.55"/><circle cx="74.5" cy="861.2" r="1.55"/><circle cx="74" cy="876.8" r="1.55"/><circle cx="78.2" cy="877.5" r="1.55"/><circle cx="82.4" cy="878" r="1.55"/><circle cx="84.9" cy="876.3" r="1.55"/><circle cx="70.2" cy="883" r="1.55"/><circle cx="79.9" cy="888" r="1.55"/><circle cx="91.3" cy="894.2" r="1.55"/><circle cx="92.6" cy="894.9" r="1.55"/><circle cx="72.7" cy="891.2" r="1.55"/><circle cx="67" cy="897.9" r="1.55"/><circle cx="70.7" cy="898.6" r="1.55"/><circle cx="72.5" cy="904.1" r="1.55"/><circle cx="66.5" cy="907.8" r="1.55"/><circle cx="88.9" cy="908.3" r="1.55"/><circle cx="68.5" cy="919.2" r="1.55"/><circle cx="79.4" cy="922.2" r="1.55"/><circle cx="94.3" cy="924" r="1.55"/><circle cx="84.4" cy="944.6" r="1.55"/><circle cx="134" cy="830.4" r="1.55"/><circle cx="131.5" cy="857.4" r="1.55"/><circle cx="145.9" cy="860.2" r="1.55"/><circle cx="129.1" cy="880.5" r="1.55"/><circle cx="136" cy="884.2" r="1.55"/><circle cx="124.1" cy="896.2" r="1.55"/><circle cx="148.4" cy="899.6" r="1.55"/><circle cx="143.5" cy="907.1" r="1.55"/><circle cx="127.1" cy="917.3" r="1.55"/><circle cx="141" cy="919" r="1.55"/></g>
<text transform="translate(80.8,959.4) rotate(-45)" class="xl">non−PF−ILD</text>
<text transform="translate(139.6,958.6) rotate(-45)" class="xl">PF−ILD</text>
<!-- b6 -->
<text x="283.3" y="802.3" class="t1">Plasma C4a</text>
<text x="285" y="818.5" class="t2">Wilcoxon, <tspan font-style="italic">P</tspan> =0.30</text>
<text transform="translate(189.4,883.5) rotate(-90)" class="yl" font-size="13.7">Concentrations (ng/ml)</text>
<path d="M224.1 826V951.4H349.7" class="ax"/>
<line x1="221.9" y1="842.1" x2="224.1" y2="842.1" class="tk"/>
<text x="220.6" y="845.93" class="tl" font-size="10.7">3,000</text>
<line x1="221.9" y1="876.8" x2="224.1" y2="876.8" class="tk"/>
<text x="220.6" y="880.63" class="tl" font-size="10.7">2,000</text>
<line x1="221.9" y1="912" x2="224.1" y2="912" class="tk"/>
<text x="220.6" y="915.83" class="tl" font-size="10.7">1,000</text>
<line x1="221.9" y1="946.3" x2="224.1" y2="946.3" class="tk"/>
<text x="216.5" y="950.13" class="tl" font-size="10.7">0</text>
<line x1="258.55" y1="951.4" x2="258.55" y2="953.6" class="tk"/>
<line x1="315.4" y1="951.4" x2="315.4" y2="953.6" class="tk"/>
<line x1="258.55" y1="851.5" x2="258.55" y2="895.6" class="w"/>
<line x1="258.55" y1="929.8" x2="258.55" y2="945.5" class="w"/>
<rect x="237.3" y="895.6" width="42.5" height="34.2" fill="#3a9a3a" class="bx"/>
<line x1="237.3" y1="919.3" x2="279.8" y2="919.3" class="md"/>
<line x1="315.4" y1="831.8" x2="315.4" y2="862.2" class="w"/>
<line x1="315.4" y1="927.1" x2="315.4" y2="933.7" class="w"/>
<rect x="293.7" y="862.2" width="43.4" height="64.9" fill="#ee7d1e" class="bx"/>
<line x1="293.7" y1="906.6" x2="337.1" y2="906.6" class="md"/>
<g class="pt"><circle cx="257" cy="851.7" r="1.55"/><circle cx="254.3" cy="857" r="1.55"/><circle cx="249.1" cy="875.9" r="1.55"/><circle cx="260.1" cy="873.3" r="1.55"/><circle cx="268.3" cy="878.5" r="1.55"/><circle cx="272.2" cy="890.4" r="1.55"/><circle cx="245.1" cy="895.6" r="1.55"/><circle cx="267.5" cy="895.6" r="1.55"/><circle cx="249.9" cy="904" r="1.55"/><circle cx="247" cy="911.4" r="1.55"/><circle cx="245.9" cy="914.5" r="1.55"/><circle cx="270.1" cy="914" r="1.55"/><circle cx="243.8" cy="918" r="1.55"/><circle cx="251.7" cy="921.1" r="1.55"/><circle cx="257.5" cy="919.3" r="1.55"/><circle cx="263.5" cy="924" r="1.55"/><circle cx="266.2" cy="925.8" r="1.55"/><circle cx="253" cy="930.3" r="1.55"/><circle cx="260.9" cy="930.3" r="1.55"/><circle cx="270.9" cy="930.3" r="1.55"/><circle cx="251.7" cy="935" r="1.55"/><circle cx="264.3" cy="936.3" r="1.55"/><circle cx="269.6" cy="935" r="1.55"/><circle cx="262.2" cy="945.5" r="1.55"/><circle cx="304.3" cy="831.2" r="1.55"/><circle cx="302.2" cy="839.9" r="1.55"/><circle cx="316.1" cy="857" r="1.55"/><circle cx="306.9" cy="863.6" r="1.55"/><circle cx="318.7" cy="884.3" r="1.55"/><circle cx="325.8" cy="900.1" r="1.55"/><circle cx="328.7" cy="913.5" r="1.55"/><circle cx="311.6" cy="925.8" r="1.55"/><circle cx="314.8" cy="925.8" r="1.55"/><circle cx="309" cy="934.5" r="1.55"/><circle cx="321.3" cy="932.4" r="1.55"/><circle cx="324" cy="931.1" r="1.55"/></g>
<text transform="translate(263.3,959.4) rotate(-45)" class="xl">non−PF−ILD</text>
<text transform="translate(318.3,959.4) rotate(-45)" class="xl">PF−ILD</text>
<!-- b7 -->
<text x="454.6" y="802.3" class="t1">Plasma C5a</text>
<text x="454.7" y="818.5" class="t2">Wilcoxon, <tspan font-style="italic">P</tspan> =0.20</text>
<text transform="translate(370.35,879.9) rotate(-90)" class="yl" font-size="13.5">Concentrations (ng/ml)</text>
<path d="M391 824.1V949.3H516.8" class="ax"/>
<line x1="388.8" y1="829.1" x2="391" y2="829.1" class="tk"/>
<text x="388.4" y="833.83" class="tl" font-size="13.2">60</text>
<line x1="388.8" y1="870.7" x2="391" y2="870.7" class="tk"/>
<text x="388.4" y="875.43" class="tl" font-size="13.2">40</text>
<line x1="388.8" y1="912" x2="391" y2="912" class="tk"/>
<text x="388.4" y="916.73" class="tl" font-size="13.2">20</text>
<text x="388.8" y="949.43" class="tl" font-size="13.2">0</text>
<line x1="425.5" y1="949.3" x2="425.5" y2="951.5" class="tk"/>
<line x1="482.25" y1="949.3" x2="482.25" y2="951.5" class="tk"/>
<line x1="425.5" y1="859.3" x2="425.5" y2="880.1" class="w"/>
<line x1="425.5" y1="908.5" x2="425.5" y2="943.4" class="w"/>
<rect x="403.8" y="880.1" width="43.4" height="28.4" fill="#3a9a3a" class="bx"/>
<line x1="403.8" y1="896.4" x2="447.2" y2="896.4" class="md"/>
<line x1="482.25" y1="862.8" x2="482.25" y2="891.1" class="w"/>
<line x1="482.25" y1="914.5" x2="482.25" y2="926.6" class="w"/>
<rect x="460.6" y="891.1" width="43.3" height="23.4" fill="#ee7d1e" class="bx"/>
<line x1="460.6" y1="906.6" x2="503.9" y2="906.6" class="md"/>
<g class="pt"><circle cx="436.2" cy="829.1" r="1.55"/><circle cx="431.7" cy="859.3" r="1.55"/><circle cx="434.3" cy="864.1" r="1.55"/><circle cx="430.1" cy="868.5" r="1.55"/><circle cx="427" cy="873.3" r="1.55"/><circle cx="432.7" cy="878" r="1.55"/><circle cx="438.3" cy="879.3" r="1.55"/><circle cx="417.8" cy="881.2" r="1.55"/><circle cx="419.1" cy="883.3" r="1.55"/><circle cx="423.8" cy="889.8" r="1.55"/><circle cx="420.4" cy="890.4" r="1.55"/><circle cx="412.5" cy="895.6" r="1.55"/><circle cx="425.6" cy="895.6" r="1.55"/><circle cx="415.7" cy="897.7" r="1.55"/><circle cx="421.7" cy="903.5" r="1.55"/><circle cx="427.7" cy="903.5" r="1.55"/><circle cx="413.8" cy="908.7" r="1.55"/><circle cx="419.1" cy="911.4" r="1.55"/><circle cx="425.1" cy="911.4" r="1.55"/><circle cx="434.3" cy="909.3" r="1.55"/><circle cx="439.6" cy="906.6" r="1.55"/><circle cx="437.5" cy="915.8" r="1.55"/><circle cx="417.8" cy="912.7" r="1.55"/><circle cx="424.3" cy="911.9" r="1.55"/><circle cx="428.5" cy="943.4" r="1.55"/><circle cx="483.4" cy="863.6" r="1.55"/><circle cx="493.2" cy="871.4" r="1.55"/><circle cx="471.6" cy="879.1" r="1.55"/><circle cx="474.3" cy="903" r="1.55"/><circle cx="480.8" cy="904.3" r="1.55"/><circle cx="469" cy="906.9" r="1.55"/><circle cx="479" cy="914.5" r="1.55"/><circle cx="490.8" cy="914.8" r="1.55"/><circle cx="485.3" cy="924.5" r="1.55"/><circle cx="488.2" cy="926.3" r="1.55"/></g>
<text transform="translate(428.3,956.1) rotate(-45)" class="xl">non−PF−ILD</text>
<text transform="translate(486.5,958.6) rotate(-45)" class="xl">PF−ILD</text>
<!-- b8 -->
<text x="618" y="802.3" class="t1">Plasma C1q</text>
<text x="617.9" y="818.5" class="t2">Wilcoxon, <tspan font-style="italic">P</tspan> =0.12</text>
<text transform="translate(540.05,879.9) rotate(-90)" class="yl" font-size="13.5">Concentrations (pg/ml)</text>
<path d="M557.6 827.3V950H680.5" class="ax"/>
<line x1="555.4" y1="834.8" x2="557.6" y2="834.8" class="tk"/>
<text x="554.1" y="839.53" class="tl" font-size="13.2">6</text>
<line x1="555.4" y1="871.2" x2="557.6" y2="871.2" class="tk"/>
<text x="554.1" y="875.93" class="tl" font-size="13.2">4</text>
<line x1="555.4" y1="907.1" x2="557.6" y2="907.1" class="tk"/>
<text x="554.1" y="911.83" class="tl" font-size="13.2">2</text>
<line x1="555.4" y1="943" x2="557.6" y2="943" class="tk"/>
<text x="554.1" y="947.73" class="tl" font-size="13.2">0</text>
<line x1="590.9" y1="950" x2="590.9" y2="952.2" class="tk"/>
<line x1="646.9" y1="950" x2="646.9" y2="952.2" class="tk"/>
<line x1="590.9" y1="854.4" x2="590.9" y2="870.4" class="w"/>
<line x1="590.9" y1="884.3" x2="590.9" y2="900.9" class="w"/>
<rect x="569.9" y="870.4" width="42" height="13.9" fill="#3a9a3a" class="bx"/>
<line x1="569.9" y1="877.8" x2="611.9" y2="877.8" class="md"/>
<line x1="646.9" y1="833.1" x2="646.9" y2="845.7" class="w"/>
<line x1="646.9" y1="879.3" x2="646.9" y2="903.5" class="w"/>
<rect x="625.9" y="845.7" width="42" height="33.6" fill="#ee7d1e" class="bx"/>
<line x1="625.9" y1="872" x2="667.9" y2="872" class="md"/>
<g class="pt"><circle cx="578.6" cy="854.9" r="1.55"/><circle cx="582" cy="856.7" r="1.55"/><circle cx="591.7" cy="860.1" r="1.55"/><circle cx="600.9" cy="861.5" r="1.55"/><circle cx="598.3" cy="864.6" r="1.55"/><circle cx="579.1" cy="875.9" r="1.55"/><circle cx="594.3" cy="872" r="1.55"/><circle cx="602.2" cy="871.4" r="1.55"/><circle cx="603.5" cy="872" r="1.55"/><circle cx="581.2" cy="879.8" r="1.55"/><circle cx="583.8" cy="880.6" r="1.55"/><circle cx="589.1" cy="880.6" r="1.55"/><circle cx="595.6" cy="880.6" r="1.55"/><circle cx="585.9" cy="887.7" r="1.55"/><circle cx="589.1" cy="889" r="1.55"/><circle cx="584.6" cy="888.2" r="1.55"/><circle cx="603.5" cy="891.7" r="1.55"/><circle cx="588.6" cy="900.9" r="1.55"/><circle cx="594.9" cy="930.3" r="1.55"/><circle cx="597" cy="874" r="1.55"/><circle cx="588" cy="876" r="1.55"/><circle cx="633.7" cy="832.5" r="1.55"/><circle cx="639" cy="843.1" r="1.55"/><circle cx="646.1" cy="839.1" r="1.55"/><circle cx="648.2" cy="848.3" r="1.55"/><circle cx="654.8" cy="865.4" r="1.55"/><circle cx="636.4" cy="875.1" r="1.55"/><circle cx="641.6" cy="879.3" r="1.55"/><circle cx="650.8" cy="879.8" r="1.55"/><circle cx="652.7" cy="903" r="1.55"/></g>
<text transform="translate(591.9,959.4) rotate(-45)" class="xl">non−PF−ILD</text>
<text transform="translate(652.1,959.4) rotate(-45)" class="xl">PF−ILD</text>
</svg></body></html>
